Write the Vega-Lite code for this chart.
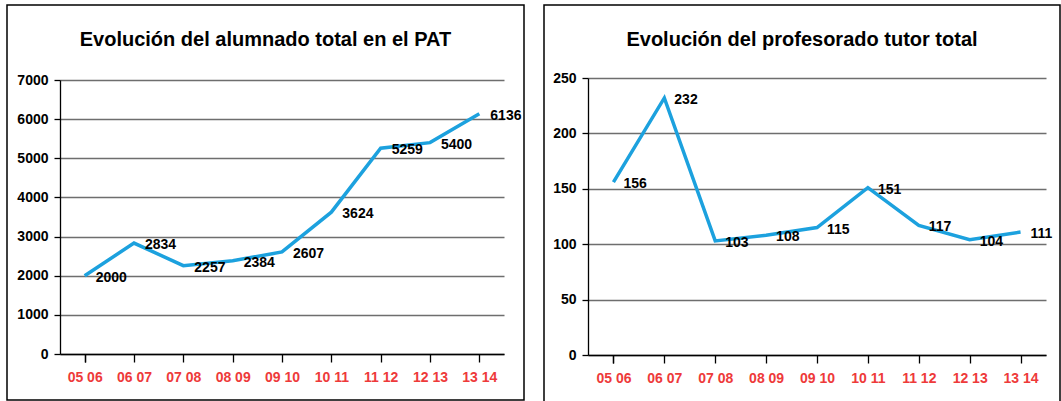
{
  "$schema": "https://vega.github.io/schema/vega-lite/v6.json",
  "padding": {"left": 6, "top": 4, "right": 0, "bottom": 0},
  "background": "white",
  "spacing": 18,
  "data": {"values": [
    {"curso": "05 06", "alumnado": 2000, "profesorado": 156},
    {"curso": "06 07", "alumnado": 2834, "profesorado": 232},
    {"curso": "07 08", "alumnado": 2257, "profesorado": 103},
    {"curso": "08 09", "alumnado": 2384, "profesorado": 108},
    {"curso": "09 10", "alumnado": 2607, "profesorado": 115},
    {"curso": "10 11", "alumnado": 3624, "profesorado": 151},
    {"curso": "11 12", "alumnado": 5259, "profesorado": 117},
    {"curso": "12 13", "alumnado": 5400, "profesorado": 104},
    {"curso": "13 14", "alumnado": 6136, "profesorado": 111}
  ]},
  "config": {
    "view": {"stroke": "black", "strokeWidth": 1.5},
    "font": "Liberation Sans, Arial, sans-serif",
    "axis": {
      "labelFont": "Liberation Sans, Arial, sans-serif",
      "labelFontWeight": "bold",
      "labelFontSize": 14,
      "domainColor": "black",
      "domainWidth": 1.3,
      "tickColor": "black",
      "tickWidth": 1.3,
      "title": null
    },
    "axisX": {
      "labelColor": "#ee3a3a",
      "labelAngle": 0,
      "tickBand": "extent",
      "tickSize": 8,
      "labelPadding": 8,
      "grid": false
    },
    "axisY": {
      "labelColor": "black",
      "grid": true,
      "gridColor": "#6e6e6e",
      "gridWidth": 1.3,
      "tickSize": 6,
      "labelPadding": 6,
      "format": "d"
    },
    "title": {
      "font": "Liberation Sans, Arial, sans-serif",
      "fontSize": 20,
      "fontWeight": "bold",
      "color": "black",
      "anchor": "middle",
      "frame": "group"
    }
  },
  "hconcat": [
    {
      "width": 517,
      "height": 395,
      "title": {"text": "Evolución del alumnado total en el PAT", "offset": -45},
      "encoding": {
        "x": {"field": "curso", "type": "ordinal", "sort": null,
              "scale": {"range": [53, 497]},
              "axis": {"offset": -46}},
        "y": {"field": "alumnado", "type": "quantitative",
              "scale": {"domain": [0, 7000], "range": [349, 75], "nice": false},
              "axis": {"values": [0, 1000, 2000, 3000, 4000, 5000, 6000, 7000], "offset": -53}}
      },
      "layer": [
        {"mark": {"type": "line", "color": "#1ca1de", "strokeWidth": 3.5}},
        {"mark": {"type": "text", "align": "left", "baseline": "middle", "dx": 11, "dy": 2,
                  "fontSize": 14, "fontWeight": "bold", "color": "black"},
         "encoding": {"text": {"field": "alumnado", "type": "quantitative", "format": "d"}}}
      ]
    },
    {
      "width": 516,
      "height": 402,
      "title": {"text": "Evolución del profesorado tutor total", "offset": -45},
      "encoding": {
        "x": {"field": "curso", "type": "ordinal", "sort": null,
              "scale": {"range": [44, 502]},
              "axis": {"offset": -52}},
        "y": {"field": "profesorado", "type": "quantitative",
              "scale": {"domain": [0, 250], "range": [350, 73], "nice": false},
              "axis": {"values": [0, 50, 100, 150, 200, 250], "offset": -44}}
      },
      "layer": [
        {"mark": {"type": "line", "color": "#1ca1de", "strokeWidth": 3.5}},
        {"mark": {"type": "text", "align": "left", "baseline": "middle", "dx": 10, "dy": 2,
                  "fontSize": 14, "fontWeight": "bold", "color": "black"},
         "encoding": {"text": {"field": "profesorado", "type": "quantitative", "format": "d"}}}
      ]
    }
  ]
}
